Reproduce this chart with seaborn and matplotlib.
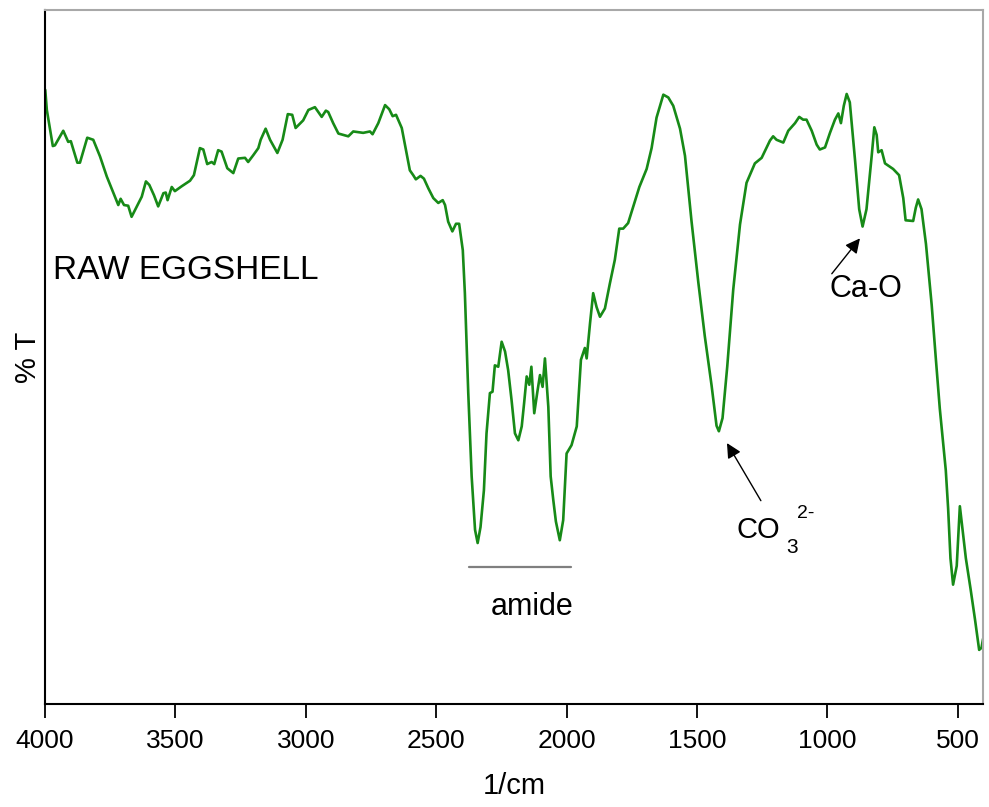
import matplotlib
matplotlib.use("Agg")
import matplotlib.pyplot as plt
import seaborn as sns
import pandas as pd

# FTIR spectrum of raw eggshell: wavenumber (1/cm) and transmittance (%T, arbitrary scale)
wavenumber = [
    3999, 3993, 3970, 3962, 3930, 3911, 3901, 3876, 3866, 3838, 3815, 3789, 3763, 3732,
    3719, 3710, 3697, 3681, 3668, 3648, 3629, 3613, 3600, 3582, 3566, 3546, 3537, 3530,
    3514, 3502, 3476, 3444, 3429, 3406, 3393, 3378, 3361, 3351, 3336, 3323, 3301, 3278,
    3259, 3233, 3221, 3201, 3182, 3173, 3154, 3137, 3109, 3089, 3069, 3052, 3039, 3010,
    2990, 2965, 2939, 2923, 2914, 2895, 2875, 2837, 2818, 2780, 2754, 2744, 2722, 2696,
    2680, 2667, 2654, 2632, 2601, 2588, 2578, 2560, 2547, 2530, 2511, 2492, 2475, 2466,
    2454, 2438, 2424, 2412, 2398, 2390, 2377, 2364, 2351, 2341, 2330, 2317, 2307, 2294,
    2284, 2275, 2262, 2249, 2236, 2224, 2211, 2198, 2185, 2172, 2163, 2153, 2143, 2135,
    2124, 2112, 2102, 2092, 2083, 2070, 2061, 2051, 2041, 2026, 2013, 2000, 1981, 1961,
    1945, 1930, 1923, 1910, 1898, 1885, 1872, 1853, 1834, 1815, 1798, 1783, 1764, 1744,
    1721, 1693, 1674, 1655, 1629, 1610, 1591, 1565, 1546, 1521, 1495, 1470, 1444, 1425,
    1416, 1402, 1384, 1361, 1335, 1310, 1278, 1252, 1220, 1208, 1195, 1169, 1150, 1124,
    1108, 1093, 1080, 1060, 1041, 1029, 1009, 990, 971, 958, 948, 937, 926, 914,
    894, 878, 865, 850, 830, 820, 811, 805, 792, 779, 748, 725, 709, 700,
    671, 661, 652, 639, 622, 600, 584, 569, 556, 546, 537, 528, 518, 504,
    492, 481, 469, 451, 434, 418, 409, 403,
]
transmittance = [
    88.5, 85.6, 80.4, 80.5, 82.6, 81.0, 81.1, 78.0, 78.0, 81.6, 81.3, 78.9, 76.0, 73.1,
    71.9, 72.8, 71.9, 71.8, 70.2, 71.7, 73.1, 75.3, 74.8, 73.3, 71.7, 73.6, 73.7, 72.6,
    74.5, 73.9, 74.6, 75.4, 76.2, 80.1, 79.9, 77.8, 78.1, 77.8, 79.8, 79.6, 77.2, 76.5,
    78.6, 78.7, 78.1, 79.1, 80.1, 81.3, 82.9, 81.3, 79.4, 81.3, 85.0, 84.9, 83.0, 84.1,
    85.6, 86.0, 84.6, 85.5, 85.3, 83.7, 82.2, 81.8, 82.5, 82.3, 82.5, 82.1, 83.7, 86.3,
    85.7, 84.7, 84.9, 83.0, 76.9, 76.2, 75.6, 76.1, 75.7, 74.3, 72.9, 72.2, 72.6, 71.9,
    69.5, 68.1, 69.2, 69.2, 65.4, 59.2, 44.8, 32.8, 25.1, 23.2, 25.5, 30.8, 39.0, 44.8,
    45.0, 48.8, 48.6, 52.2, 50.8, 48.1, 43.8, 39.0, 38.0, 40.0, 43.3, 47.2, 46.0, 48.6,
    41.9, 45.0, 47.4, 45.7, 49.8, 42.8, 32.8, 29.4, 26.3, 23.6, 26.5, 36.1, 37.3, 40.0,
    49.6, 51.3, 49.8, 54.9, 59.2, 57.2, 55.8, 57.0, 60.6, 64.0, 68.5, 68.5, 69.3, 71.7,
    74.5, 77.1, 80.1, 84.5, 87.8, 87.4, 86.2, 82.9, 79.0, 69.6, 60.8, 53.0, 45.9, 40.1,
    39.3, 41.2, 48.6, 59.7, 69.1, 75.1, 77.9, 78.7, 81.2, 81.8, 81.3, 80.9, 82.6, 83.7,
    84.6, 84.2, 84.2, 82.6, 80.6, 79.9, 80.2, 82.3, 84.2, 85.1, 83.7, 86.2, 87.9, 86.7,
    78.4, 71.3, 68.8, 71.3, 79.0, 83.1, 82.0, 79.5, 79.8, 77.9, 77.1, 76.2, 72.9, 69.7,
    69.6, 71.5, 72.7, 71.3, 66.3, 57.5, 49.7, 42.6, 37.6, 33.7, 28.2, 21.0, 17.2, 19.9,
    28.5, 24.9, 21.0, 16.6, 12.2, 7.8, 8.1, 9.4,
]

x_ticks = [4000, 3500, 3000, 2500, 2000, 1500, 1000, 500]
x_range = (4000, 403)

sample_label = "RAW EGGSHELL"
amide_span = (2374, 1983)
amide_label = "amide"

sns.set_style("white")
plt.rcParams["font.family"] = ["Liberation Sans", "DejaVu Sans"]
plt.rcParams["text.color"] = "black"
plt.rcParams["axes.labelcolor"] = "black"
plt.rcParams["xtick.color"] = "black"

fig = plt.figure(figsize=(9.89, 8.07), dpi=100)
ax = fig.add_axes([0.0455, 0.1276, 0.9485, 0.86])

spectrum = pd.DataFrame({"wavenumber": wavenumber, "T": transmittance})
sns.lineplot(data=spectrum, x="wavenumber", y="T", sort=False, estimator=None,
             color="#178a17", linewidth=1.9, ax=ax)

ax.set_xlim(*x_range)
ax.set_ylim(0, 100)
ax.set_xticks(x_ticks)
ax.set_xticklabels([str(t) for t in x_ticks], fontsize=19)
ax.set_yticks([])
ax.tick_params(axis="x", direction="out", length=10, width=1.3, color="black",
               labelcolor="black", pad=8, bottom=True)
ax.set_xlabel("1/cm", fontsize=21, labelpad=14)
ax.set_ylabel("% T", fontsize=21, labelpad=2)

for side in ("left", "bottom"):
    ax.spines[side].set_color("black")
    ax.spines[side].set_linewidth(1.5)
for side in ("top", "right"):
    ax.spines[side].set_color("#a8a8a8")
    ax.spines[side].set_linewidth(1.5)

# sample name
ax.text(3969, 62.5, sample_label, fontsize=24, ha="left", va="center")

# amide band bracket
ax.plot(amide_span, [19.7, 19.7], color="#7f7f7f", linewidth=1.6)
ax.text(2133, 14.0, amide_label, fontsize=22, ha="center", va="center")

arrow = dict(arrowstyle="-|>", color="black", lw=1.0, mutation_scale=22,
             shrinkA=0, shrinkB=0)

# carbonate band
ax.annotate("", xy=(1385, 37.6), xytext=(1255, 29.3), arrowprops=arrow)
co = ax.text(1347, 25.1, "CO", fontsize=21, ha="left", va="center")
ax.annotate("3", xy=(1.0, 0.0), xycoords=co, xytext=(4, -3),
            textcoords="offset points", fontsize=15, ha="left", va="center")
ax.annotate("2-", xy=(1.0, 1.0), xycoords=co, xytext=(12, 2),
            textcoords="offset points", fontsize=14, ha="left", va="center")

# Ca-O band
ax.annotate("", xy=(875, 67.1), xytext=(983, 62.0), arrowprops=arrow)
ax.text(852, 59.8, "Ca-O", fontsize=22, ha="center", va="center")

fig.savefig("out.png", dpi=100)
